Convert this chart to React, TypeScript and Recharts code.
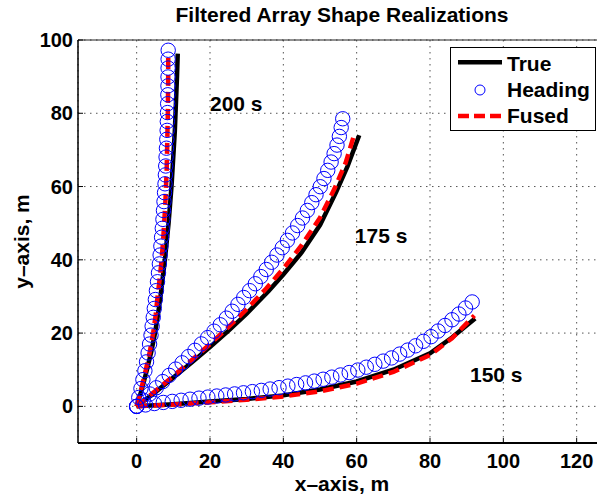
import React from 'react';
import {
  ComposedChart,
  Line,
  Scatter,
  XAxis,
  YAxis,
  CartesianGrid,
  ReferenceLine,
  ReferenceDot,
  Label,
} from 'recharts';

const FONT = "'Liberation Sans', Arial, Helvetica, sans-serif";

const xTicks = [0, 20, 40, 60, 80, 100, 120];
const yTicks = [0, 20, 40, 60, 80, 100];

// ---- 200 s ----
const true200: number[][] = [
  [0, 0], [1.5, 5], [2.8, 10], [4, 15], [5, 20], [5.8, 25], [6.5, 30], [7.1, 35], [7.7, 40],
  [8.2, 45], [8.7, 50], [9.1, 55], [9.5, 60], [9.8, 65], [10.1, 70], [10.4, 75], [10.6, 80],
  [10.8, 85], [11, 90], [11.2, 96.3],
];
const heading200: number[][] = [
  [0, 0], [0.58, 2.43], [1.17, 4.86], [1.7, 7.29], [2.24, 9.72], [2.69, 12.15], [3.12, 14.58],
  [3.52, 17.01], [3.91, 19.44], [4.22, 21.87], [4.52, 24.3], [4.81, 26.73], [5.1, 29.16],
  [5.39, 31.59], [5.68, 34.02], [5.95, 36.45], [6.19, 38.88], [6.4, 41.31], [6.6, 43.74],
  [6.79, 46.17], [6.99, 48.6], [7.16, 51.03], [7.31, 53.46], [7.45, 55.89], [7.6, 58.32],
  [7.73, 60.75], [7.83, 63.18], [7.92, 65.61], [8.02, 68.04], [8.12, 70.47], [8.22, 72.9],
  [8.31, 75.33], [8.36, 77.76], [8.4, 80.19], [8.45, 82.62], [8.5, 85.05], [8.53, 87.48],
  [8.55, 89.91], [8.57, 92.34], [8.58, 94.77], [8.6, 97.2],
];
const fused200: number[][] = [
  [0, 0], [1.3, 5], [2.5, 10], [3.6, 15], [4.5, 20], [5.2, 25], [5.7, 30], [6.3, 35], [6.8, 40],
  [7.2, 45], [7.5, 50], [7.8, 55], [8, 60], [8.2, 65], [8.3, 70], [8.4, 75], [8.5, 80],
  [8.55, 85], [8.6, 90], [8.6, 96],
];

// ---- 175 s ----
const true175: number[][] = [
  [0, 0], [5, 3.8], [10, 7.9], [15, 12], [20, 16.2], [25, 20.6], [30, 25.3], [36, 31.5],
  [40, 36], [45, 42], [50, 49.5], [54.4, 58.5], [57.5, 65.5], [60.7, 74],
];
const heading175: number[][] = [
  [0, 0], [1.78, 1.69], [3.56, 3.38], [5.34, 5.07], [7.11, 6.76], [8.88, 8.46], [10.64, 10.17],
  [12.39, 11.88], [14.15, 13.59], [15.9, 15.3], [17.64, 17.04], [19.37, 18.77], [21.1, 20.52],
  [22.8, 22.27], [24.48, 24.08], [26.05, 25.96], [27.62, 27.84], [29.2, 29.71], [30.8, 31.58],
  [32.36, 33.47], [33.86, 35.42], [35.35, 37.36], [36.82, 39.33], [38.26, 41.31], [39.71, 43.3],
  [41.11, 45.31], [42.5, 47.33], [43.9, 49.35], [45.22, 51.41], [46.54, 53.48], [47.76, 55.61],
  [48.91, 57.77], [50.07, 59.95], [51.08, 62.18], [52.11, 64.42], [53.03, 66.69], [53.85, 68.99],
  [54.64, 71.32], [55.28, 73.69], [55.78, 76.1], [56.2, 78.5],
];
const fused175: number[][] = [
  [0, 0], [5, 4.1], [10, 8.3], [15, 12.6], [20, 17], [25, 21.6], [30, 26.5], [35, 31.8],
  [40, 37.6], [45, 44], [50, 51.5], [54, 59.5], [57, 66.5], [59.4, 74.4],
];

// ---- 150 s ----
const true150: number[][] = [
  [0, 0], [10, 0.6], [20, 1.3], [30, 2], [40, 3], [50, 4.6], [60, 6.8], [70, 10], [80, 14.5],
  [86, 18.8], [92.3, 24],
];
const heading150: number[][] = [
  [0, 0], [2.42, 0.39], [4.83, 0.77], [7.26, 1.07], [9.7, 1.36], [12.13, 1.66], [14.56, 1.95],
  [16.99, 2.24], [19.42, 2.53], [21.85, 2.82], [24.28, 3.11], [26.71, 3.4], [29.14, 3.7],
  [31.56, 4.02], [33.99, 4.36], [36.41, 4.73], [38.83, 5.11], [41.24, 5.52], [43.64, 5.96],
  [46.05, 6.41], [48.45, 6.89], [50.85, 7.4], [53.23, 7.98], [55.6, 8.57], [57.96, 9.23],
  [60.31, 9.91], [62.63, 10.69], [64.96, 11.48], [67.23, 12.35], [69.52, 13.22], [71.73, 14.27],
  [73.92, 15.36], [76.08, 16.53], [78.19, 17.75], [80.28, 19.02], [82.2, 20.56], [84.1, 22.08],
  [86.0, 23.64], [87.88, 25.2], [89.69, 26.85], [91.5, 28.5],
];
const fused150: number[][] = [
  [0, 0], [10, 0.5], [20, 1.1], [30, 1.8], [40, 2.7], [50, 4.1], [60, 6.2], [70, 9.4], [80, 14],
  [86, 18.6], [92.1, 24.8],
];

const annotationLabels = ['200 s', '175 s', '150 s'];
const annotationPos: number[][] = [[20, 82.7], [59.5, 46.6], [90.9, 8.7]];

const legendLabels = ['True', 'Heading', 'Fused'];

const toPts = (a: number[][]) => a.map(([x, y]) => ({ x, y }));

const BLUE = '#0000ff';
const RED = '#ff0000';

const circleShape = (props: any) => (
  <circle cx={props.cx} cy={props.cy} r={7.2} fill="none" stroke={BLUE} strokeWidth={1} />
);

const textStyle = { fill: '#000', fontSize: 21, fontWeight: 'bold' as const, fontFamily: FONT };
const tickStyle = { fill: '#000', fontSize: 20, fontWeight: 'bold' as const, fontFamily: FONT };

export default function App() {
  const trues = [true200, true175, true150];
  const headings = [heading200, heading175, heading150];
  const fuseds = [fused200, fused175, fused150];
  return (
    <div
      style={{
        position: 'absolute',
        left: 0,
        top: 0,
        width: 597,
        height: 497,
        overflow: 'hidden',
        background: '#fff',
      }}
    >
      <ComposedChart
        width={620}
        height={497}
        margin={{ top: 40, right: 14, bottom: 0, left: 0 }}
      >
        <CartesianGrid stroke="#555" strokeDasharray="1.5 4.5" strokeWidth={1} />
        <XAxis
          type="number"
          dataKey="x"
          domain={[-16, 128]}
          ticks={xTicks}
          allowDataOverflow
          height={54}
          tickSize={-5}
          tickMargin={15.5}
          axisLine={{ stroke: '#000', strokeWidth: 2 }}
          tickLine={{ stroke: '#000' }}
          tick={{ ...tickStyle }}
        >
          <Label value="x–axis, m" position="insideBottom" offset={6} {...textStyle} />
        </XAxis>
        <YAxis
          type="number"
          dataKey="y"
          domain={[-10, 100]}
          ticks={yTicks}
          allowDataOverflow
          width={78}
          tickSize={-5}
          tickMargin={10}
          axisLine={{ stroke: '#000', strokeWidth: 1.5 }}
          tickLine={{ stroke: '#000' }}
          tick={{ ...tickStyle }}
        >
          <Label
            content={(p: any) => {
              const vb = p.viewBox || { x: 0, y: 40, width: 78, height: 403 };
              const X = vb.x + 29;
              const Y = vb.y + vb.height / 2;
              return (
                <text
                  x={X}
                  y={Y}
                  transform={`rotate(-90, ${X}, ${Y})`}
                  textAnchor="middle"
                  fill="#000"
                  fontSize={21}
                  fontWeight="bold"
                  fontFamily={FONT}
                >
                  y–axis, m
                </text>
              );
            }}
          />
        </YAxis>
        <ReferenceLine
          y={100}
          stroke="#222"
          strokeWidth={1}
          label={{
            value: 'Filtered Array Shape Realizations',
            position: 'top',
            offset: 18,
            ...textStyle,
          }}
        />
        {trues.map((d, i) => (
          <Line
            key={'t' + i}
            data={toPts(d)}
            dataKey="y"
            type="linear"
            stroke="#000"
            strokeWidth={4.5}
            dot={false}
            activeDot={false}
            isAnimationActive={false}
          />
        ))}
        {headings.map((d, i) => (
          <Scatter
            key={'h' + i}
            data={toPts(d)}
            dataKey="y"
            shape={circleShape}
            isAnimationActive={false}
          />
        ))}
        {fuseds.map((d, i) => (
          <Line
            key={'f' + i}
            data={toPts(d)}
            dataKey="y"
            type="linear"
            stroke={RED}
            strokeWidth={4.5}
            strokeDasharray="11 6"
            dot={false}
            activeDot={false}
            isAnimationActive={false}
          />
        ))}
        {annotationLabels.map((t, i) => (
          <ReferenceDot
            key={'a' + i}
            x={annotationPos[i][0]}
            y={annotationPos[i][1]}
            r={0}
            fill="none"
            stroke="none"
            label={{ value: t, position: 'right', offset: 0, ...textStyle }}
          />
        ))}
      </ComposedChart>
      <div
        style={{
          position: 'absolute',
          left: 450,
          top: 47,
          width: 146,
          height: 84,
          boxSizing: 'border-box',
          border: '1px solid #000',
          background: '#fff',
        }}
      >
        <svg width={146} height={84} style={{ position: 'absolute', left: -1, top: -1 }}>
          <line x1={8} x2={52} y1={15.3} y2={15.3} stroke="#000" strokeWidth={4.5} />
          <circle cx={30} cy={43} r={5} fill="none" stroke={BLUE} strokeWidth={1} />
          <line
            x1={8}
            x2={52}
            y1={69}
            y2={69}
            stroke={RED}
            strokeWidth={4.5}
            strokeDasharray="11 5"
          />
          {legendLabels.map((t, i) => (
            <text
              key={t}
              x={57}
              y={23.7 + i * 26}
              fill="#000"
              fontSize={21}
              fontWeight="bold"
              fontFamily={FONT}
            >
              {t}
            </text>
          ))}
        </svg>
      </div>
    </div>
  );
}
